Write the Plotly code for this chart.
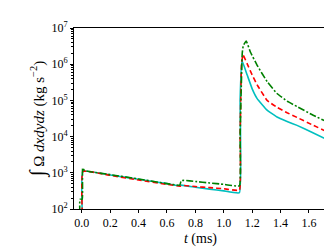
import plotly.graph_objects as go

# cyan solid
t_c = [0.003, 0.008, 0.2, 0.4, 0.6, 0.69, 0.70, 0.8, 0.9, 1.0, 1.11, 1.115, 1.128, 1.165, 1.20, 1.235, 1.305, 1.375, 1.446, 1.516, 1.62, 1.73]
logy_c = [1.9, 3.04, 2.94, 2.82, 2.70, 2.64, 2.66, 2.60, 2.55, 2.50, 2.45, 5.0, 6.10, 5.70, 5.32, 5.05, 4.73, 4.54, 4.42, 4.31, 4.12, 3.91]
# red dashed
t_r = [0.003, 0.008, 0.2, 0.4, 0.6, 0.69, 0.72, 0.8, 0.9, 1.0, 1.11, 1.115, 1.125, 1.135, 1.165, 1.20, 1.235, 1.305, 1.375, 1.446, 1.516, 1.62, 1.73]
logy_r = [1.9, 3.04, 2.93, 2.80, 2.68, 2.63, 2.65, 2.62, 2.59, 2.56, 2.52, 4.0, 6.0, 6.26, 6.01, 5.70, 5.43, 5.0, 4.81, 4.66, 4.53, 4.33, 4.13]
# green dash-dot
t_g = [-0.014, -0.013, 0.003, 0.006, 0.02, 0.2, 0.4, 0.6, 0.69, 0.70, 0.72, 0.8, 0.9, 1.0, 1.11, 1.115, 1.13, 1.137, 1.158, 1.188, 1.235, 1.305, 1.375, 1.446, 1.516, 1.62, 1.73]
logy_g = [1.9, 2.27, 2.27, 3.13, 3.06, 2.95, 2.83, 2.70, 2.66, 2.78, 2.79, 2.76, 2.72, 2.68, 2.64, 4.0, 6.3, 6.51, 6.64, 6.33, 5.97, 5.52, 5.19, 4.98, 4.83, 4.61, 4.40]

x_ticks = [0.0, 0.2, 0.4, 0.6, 0.8, 1.0, 1.2, 1.4, 1.6]
y_exps = [2, 3, 4, 5, 6, 7]

FONT = "Liberation Serif"

fig = go.Figure()
series = [
    (t_c, logy_c, "#00bfbf", "solid"),
    (t_r, logy_r, "#ff0000", "5px,3px"),
    (t_g, logy_g, "#008000", "7px,2px,2px,2px"),
]
for t, ly, col, dash in series:
    fig.add_trace(go.Scatter(x=t, y=[10 ** v for v in ly], mode="lines",
                             line=dict(color=col, width=1.6, dash=dash, shape="spline", smoothing=0.3),
                             showlegend=False))

minor_vals = [m * 10 ** e for e in y_exps[:-1] for m in range(2, 10)]

fig.update_layout(
    width=332, height=249,
    margin=dict(l=66, r=12, t=15, b=48),
    paper_bgcolor="white", plot_bgcolor="white",
    font=dict(family=FONT, size=12, color="black"),
    xaxis=dict(range=[-0.055, 1.727], tickvals=x_ticks,
               ticktext=[f"{v:.1f}" for v in x_ticks],
               ticks="outside", ticklen=3, tickcolor="black",
               showline=True, linecolor="black", linewidth=1, mirror=True,
               showgrid=False, zeroline=False,
               title=dict(text="<i>t</i> (ms)", font=dict(size=14), standoff=3)),
    yaxis=dict(type="log", range=[2, 7],
               tickvals=[10 ** e for e in y_exps],
               ticktext=[f"10<sup>{e}</sup>" for e in y_exps],
               ticks="outside", ticklen=3, tickcolor="black",
               minor=dict(tickvals=minor_vals, ticks="outside", ticklen=2, tickcolor="black"),
               showline=True, linecolor="black", linewidth=1, mirror=True,
               showgrid=False, zeroline=False,
               title=dict(text="<span style='font-size:21px'>∫</span> Ω <i>dxdydz</i> (kg s<sup>−2</sup>)",
                          font=dict(size=15), standoff=3)),
)

fig.write_html("out.html")
